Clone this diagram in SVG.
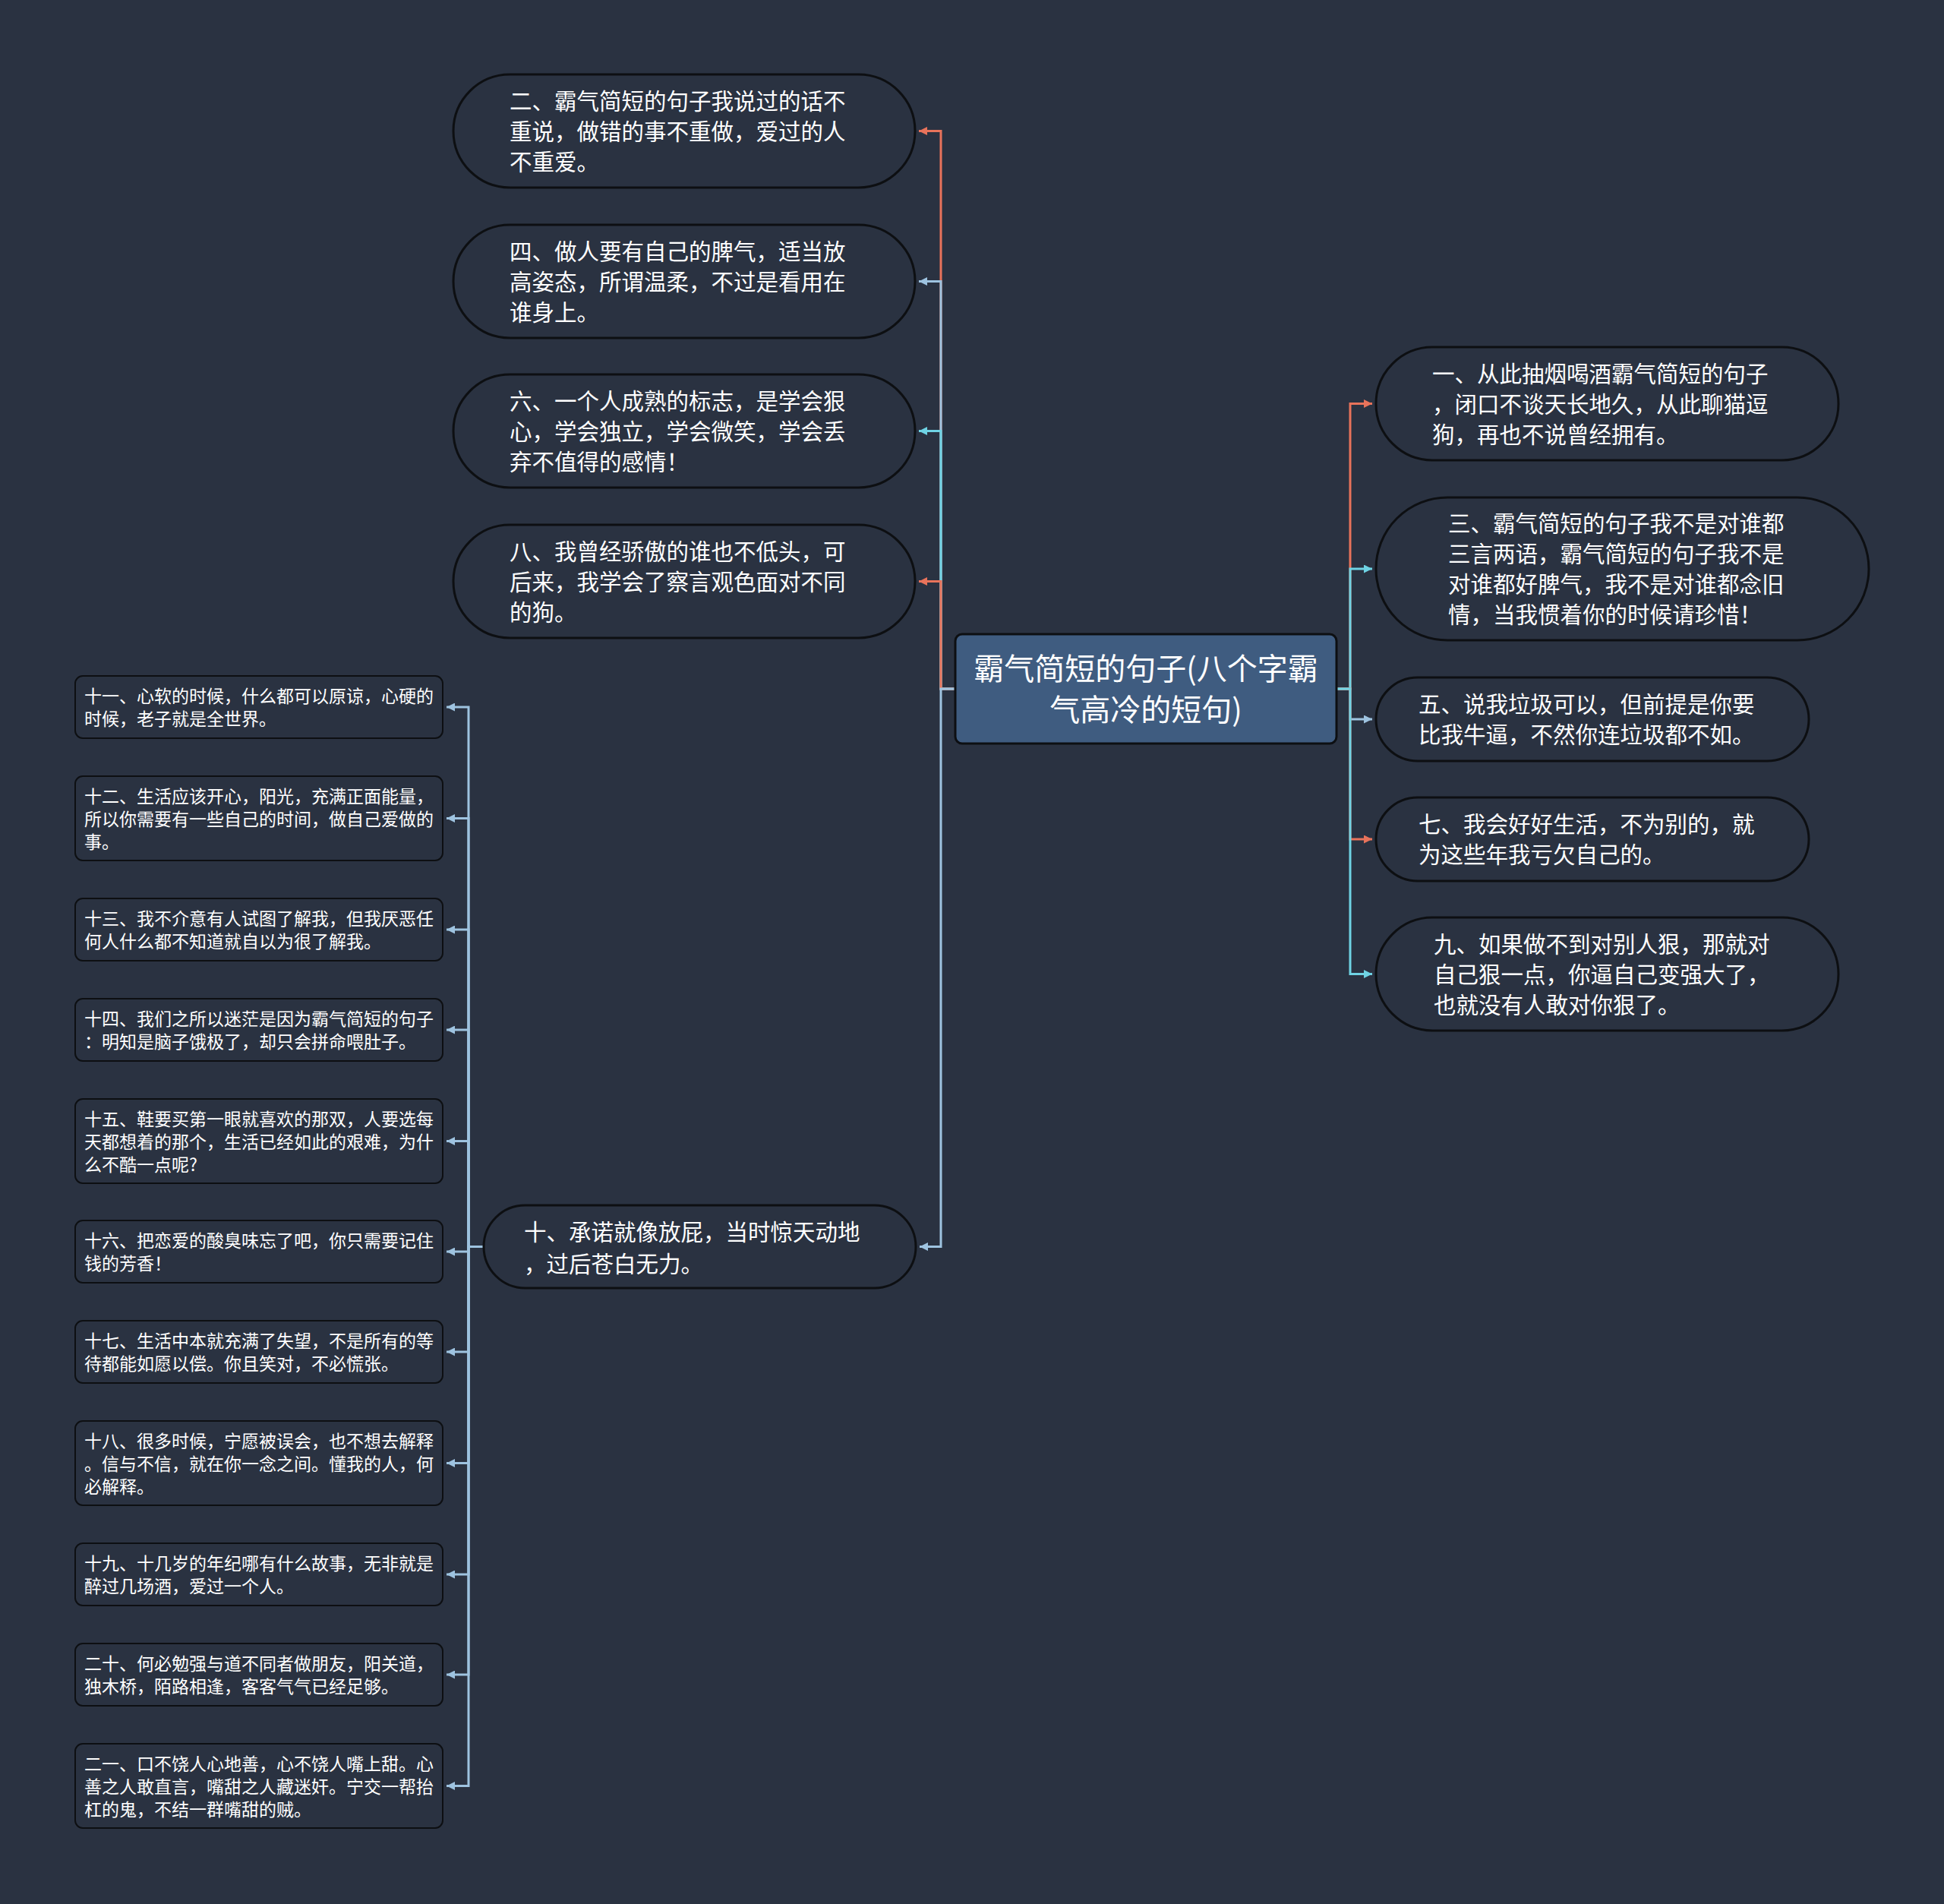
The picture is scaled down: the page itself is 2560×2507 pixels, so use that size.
<svg xmlns="http://www.w3.org/2000/svg" width="2560" height="2507" viewBox="0 0 2560 2507">
<defs>
<style>
.bg{fill:#2a3241}
.pill{fill:#2a3241;stroke:#0d0f12;stroke-width:3}
.box{fill:#2a3241;stroke:#0d0f12;stroke-width:2}
.root{fill:#3f5c80;stroke:#0d0f12;stroke-width:3}
.t{font-family:"Noto Sans CJK SC","Noto Sans",sans-serif;fill:#ffffff}
.big{font-size:29.5px}
.sm{font-size:23px}
.rt{font-size:40px;text-anchor:middle}
.e{fill:none;stroke-width:3}
.coral{stroke:#e8735b}
.lblue{stroke:#9ec3e0}
.cyan{stroke:#6fd3e4}
</style>
<marker id="aCoral" viewBox="0 0 10 10" refX="10" refY="5" markerUnits="userSpaceOnUse" markerWidth="12" markerHeight="11" orient="auto"><path d="M0,0 L10,5 L0,10 z" fill="#e8735b"/></marker>
<marker id="aBlue" viewBox="0 0 10 10" refX="10" refY="5" markerUnits="userSpaceOnUse" markerWidth="12" markerHeight="11" orient="auto"><path d="M0,0 L10,5 L0,10 z" fill="#9ec3e0"/></marker>
<marker id="aCyan" viewBox="0 0 10 10" refX="10" refY="5" markerUnits="userSpaceOnUse" markerWidth="12" markerHeight="11" orient="auto"><path d="M0,0 L10,5 L0,10 z" fill="#6fd3e4"/></marker>
</defs>
<rect class="bg" x="0" y="0" width="2560" height="2507"/>

<g id="connectors">
<path class="e coral" d="M1258,907 H1239 V172.5 H1210" marker-end="url(#aCoral)"/>
<path class="e lblue" d="M1258,907 H1239 V370.5 H1210" marker-end="url(#aBlue)"/>
<path class="e cyan" d="M1258,907 H1239 V567.5 H1210" marker-end="url(#aCyan)"/>
<path class="e coral" d="M1258,907 H1239 V765.5 H1210" marker-end="url(#aCoral)"/>
<path class="e lblue" d="M1258,907 H1239 V1641.5 H1211" marker-end="url(#aBlue)"/>
<path class="e coral" d="M1760,907 H1778 V531.5 H1807" marker-end="url(#aCoral)"/>
<path class="e cyan" d="M1760,907 H1778 V749 H1807" marker-end="url(#aCyan)"/>
<path class="e lblue" d="M1760,907 H1778 V947 H1807" marker-end="url(#aBlue)"/>
<path class="e coral" d="M1760,907 H1778 V1105 H1807" marker-end="url(#aCoral)"/>
<path class="e cyan" d="M1760,907 H1778 V1282.5 H1807" marker-end="url(#aCyan)"/>
<path class="e lblue" d="M637,1641.5 H617 V931 H588" marker-end="url(#aBlue)"/>
<path class="e lblue" d="M637,1641.5 H617 V1077.5 H588" marker-end="url(#aBlue)"/>
<path class="e lblue" d="M637,1641.5 H617 V1224 H588" marker-end="url(#aBlue)"/>
<path class="e lblue" d="M637,1641.5 H617 V1356 H588" marker-end="url(#aBlue)"/>
<path class="e lblue" d="M637,1641.5 H617 V1502.5 H588" marker-end="url(#aBlue)"/>
<path class="e lblue" d="M637,1641.5 H617 V1648 H588" marker-end="url(#aBlue)"/>
<path class="e lblue" d="M637,1641.5 H617 V1780 H588" marker-end="url(#aBlue)"/>
<path class="e lblue" d="M637,1641.5 H617 V1926.5 H588" marker-end="url(#aBlue)"/>
<path class="e lblue" d="M637,1641.5 H617 V2073 H588" marker-end="url(#aBlue)"/>
<path class="e lblue" d="M637,1641.5 H617 V2205 H588" marker-end="url(#aBlue)"/>
<path class="e lblue" d="M637,1641.5 H617 V2351.5 H588" marker-end="url(#aBlue)"/>
</g>

<g id="root">
<rect class="root" x="1258" y="835" width="502" height="144" rx="9"/>
<text class="t rt" x="1509" y="895">霸气简短的句子(八个字霸</text>
<text class="t rt" x="1509" y="949">气高冷的短句)</text>
</g>

<g id="n2">
<rect class="pill" x="597" y="98" width="608" height="149" rx="74.5"/>
<text class="t big"><tspan x="671" y="144">二、霸气简短的句子我说过的话不</tspan><tspan x="671" y="184">重说，做错的事不重做，爱过的人</tspan><tspan x="671" y="224">不重爱。</tspan></text>
</g>
<g id="n4">
<rect class="pill" x="597" y="296" width="608" height="149" rx="74.5"/>
<text class="t big"><tspan x="671" y="342">四、做人要有自己的脾气，适当放</tspan><tspan x="671" y="382">高姿态，所谓温柔，不过是看用在</tspan><tspan x="671" y="422">谁身上。</tspan></text>
</g>
<g id="n6">
<rect class="pill" x="597" y="493" width="608" height="149" rx="74.5"/>
<text class="t big"><tspan x="671" y="539">六、一个人成熟的标志，是学会狠</tspan><tspan x="671" y="579">心，学会独立，学会微笑，学会丢</tspan><tspan x="671" y="619">弃不值得的感情！</tspan></text>
</g>
<g id="n8">
<rect class="pill" x="597" y="691" width="608" height="149" rx="74.5"/>
<text class="t big"><tspan x="671" y="737">八、我曾经骄傲的谁也不低头，可</tspan><tspan x="671" y="777">后来，我学会了察言观色面对不同</tspan><tspan x="671" y="817">的狗。</tspan></text>
</g>
<g id="n10">
<rect class="pill" x="637" y="1587" width="569" height="109" rx="54.5"/>
<text class="t big"><tspan x="690" y="1633">十、承诺就像放屁，当时惊天动地</tspan><tspan x="690" y="1675">，过后苍白无力。</tspan></text>
</g>

<g id="n1">
<rect class="pill" x="1812" y="457" width="609" height="149" rx="74.5"/>
<text class="t big"><tspan x="1886" y="503">一、从此抽烟喝酒霸气简短的句子</tspan><tspan x="1886" y="543">，闭口不谈天长地久，从此聊猫逗</tspan><tspan x="1886" y="583">狗，再也不说曾经拥有。</tspan></text>
</g>
<g id="n3">
<rect class="pill" x="1812" y="655" width="649" height="188" rx="94"/>
<text class="t big"><tspan x="1907" y="700">三、霸气简短的句子我不是对谁都</tspan><tspan x="1907" y="740">三言两语，霸气简短的句子我不是</tspan><tspan x="1907" y="780">对谁都好脾气，我不是对谁都念旧</tspan><tspan x="1907" y="820">情，当我惯着你的时候请珍惜！</tspan></text>
</g>
<g id="n5">
<rect class="pill" x="1812" y="892" width="570" height="110" rx="55"/>
<text class="t big"><tspan x="1868" y="938">五、说我垃圾可以，但前提是你要</tspan><tspan x="1868" y="978">比我牛逼，不然你连垃圾都不如。</tspan></text>
</g>
<g id="n7">
<rect class="pill" x="1812" y="1050" width="570" height="110" rx="55"/>
<text class="t big"><tspan x="1868" y="1096">七、我会好好生活，不为别的，就</tspan><tspan x="1868" y="1136">为这些年我亏欠自己的。</tspan></text>
</g>
<g id="n9">
<rect class="pill" x="1812" y="1208" width="609" height="149" rx="74.5"/>
<text class="t big"><tspan x="1888" y="1254">九、如果做不到对别人狠，那就对</tspan><tspan x="1888" y="1294">自己狠一点，你逼自己变强大了，</tspan><tspan x="1888" y="1334">也就没有人敢对你狠了。</tspan></text>
</g>

<g id="n11">
<rect class="box" x="99" y="890" width="484" height="82" rx="10"/>
<text class="t sm"><tspan x="111" y="925">十一、心软的时候，什么都可以原谅，心硬的</tspan><tspan x="111" y="955">时候，老子就是全世界。</tspan></text>
</g>
<g id="n12">
<rect class="box" x="99" y="1022" width="484" height="111" rx="10"/>
<text class="t sm"><tspan x="111" y="1057">十二、生活应该开心，阳光，充满正面能量，</tspan><tspan x="111" y="1087">所以你需要有一些自己的时间，做自己爱做的</tspan><tspan x="111" y="1117">事。</tspan></text>
</g>
<g id="n13">
<rect class="box" x="99" y="1183" width="484" height="82" rx="10"/>
<text class="t sm"><tspan x="111" y="1218">十三、我不介意有人试图了解我，但我厌恶任</tspan><tspan x="111" y="1248">何人什么都不知道就自以为很了解我。</tspan></text>
</g>
<g id="n14">
<rect class="box" x="99" y="1315" width="484" height="82" rx="10"/>
<text class="t sm"><tspan x="111" y="1350">十四、我们之所以迷茫是因为霸气简短的句子</tspan><tspan x="111" y="1380">：明知是脑子饿极了，却只会拼命喂肚子。</tspan></text>
</g>
<g id="n15">
<rect class="box" x="99" y="1447" width="484" height="111" rx="10"/>
<text class="t sm"><tspan x="111" y="1482">十五、鞋要买第一眼就喜欢的那双，人要选每</tspan><tspan x="111" y="1512">天都想着的那个，生活已经如此的艰难，为什</tspan><tspan x="111" y="1542">么不酷一点呢?</tspan></text>
</g>
<g id="n16">
<rect class="box" x="99" y="1607" width="484" height="82" rx="10"/>
<text class="t sm"><tspan x="111" y="1642">十六、把恋爱的酸臭味忘了吧，你只需要记住</tspan><tspan x="111" y="1672">钱的芳香！</tspan></text>
</g>
<g id="n17">
<rect class="box" x="99" y="1739" width="484" height="82" rx="10"/>
<text class="t sm"><tspan x="111" y="1774">十七、生活中本就充满了失望，不是所有的等</tspan><tspan x="111" y="1804">待都能如愿以偿。你且笑对，不必慌张。</tspan></text>
</g>
<g id="n18">
<rect class="box" x="99" y="1871" width="484" height="111" rx="10"/>
<text class="t sm"><tspan x="111" y="1906">十八、很多时候，宁愿被误会，也不想去解释</tspan><tspan x="111" y="1936">。信与不信，就在你一念之间。懂我的人，何</tspan><tspan x="111" y="1966">必解释。</tspan></text>
</g>
<g id="n19">
<rect class="box" x="99" y="2032" width="484" height="82" rx="10"/>
<text class="t sm"><tspan x="111" y="2067">十九、十几岁的年纪哪有什么故事，无非就是</tspan><tspan x="111" y="2097">醉过几场酒，爱过一个人。</tspan></text>
</g>
<g id="n20">
<rect class="box" x="99" y="2164" width="484" height="82" rx="10"/>
<text class="t sm"><tspan x="111" y="2199">二十、何必勉强与道不同者做朋友，阳关道，</tspan><tspan x="111" y="2229">独木桥，陌路相逢，客客气气已经足够。</tspan></text>
</g>
<g id="n21">
<rect class="box" x="99" y="2296" width="484" height="111" rx="10"/>
<text class="t sm"><tspan x="111" y="2331">二一、口不饶人心地善，心不饶人嘴上甜。心</tspan><tspan x="111" y="2361">善之人敢直言，嘴甜之人藏迷奸。宁交一帮抬</tspan><tspan x="111" y="2391">杠的鬼，不结一群嘴甜的贼。</tspan></text>
</g>
</svg>
